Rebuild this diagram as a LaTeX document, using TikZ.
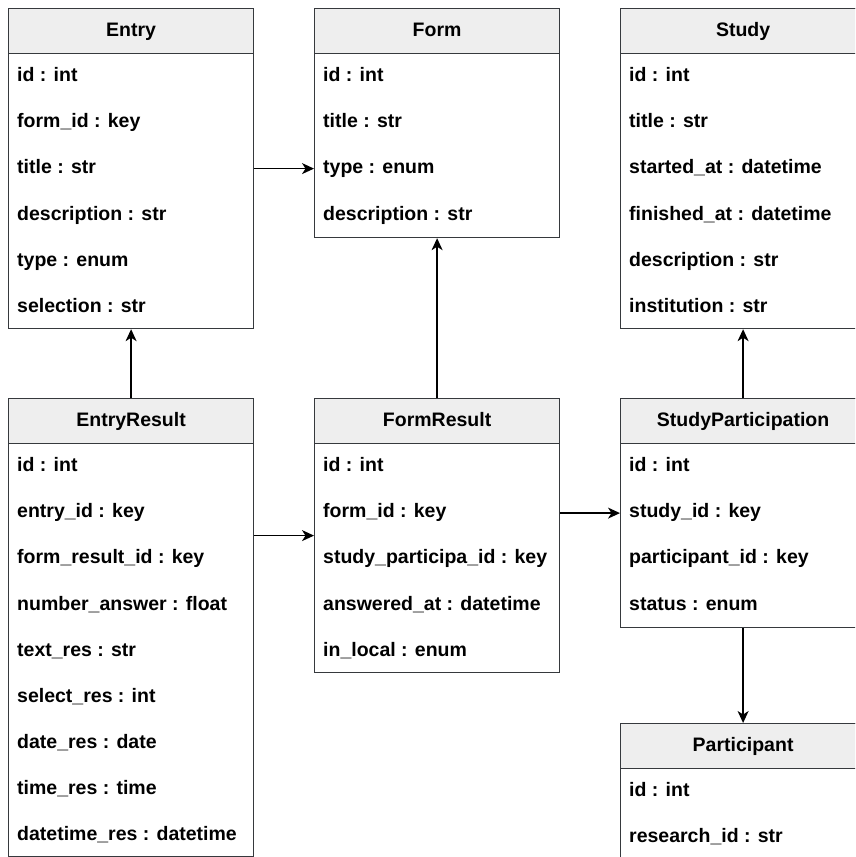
\documentclass[tikz,border=0pt]{standalone}
\usepackage{fontspec}
\setmainfont{Liberation Sans}
\usetikzlibrary{arrows.meta}

\definecolor{boxline}{HTML}{36393D}
\definecolor{headfill}{HTML}{EEEEEE}

\begin{document}
\begin{tikzpicture}
        [x=1pt, y=-1pt, font=\fontsize{19.5}{23}\selectfont\bfseries,
        table/.style={draw=boxline, line width=1.2pt, fill=white, minimum width=245pt, anchor=north west, inner sep=0pt},
        head/.style={draw=boxline, line width=1.2pt, fill=headfill, minimum width=245pt, minimum height=45pt, anchor=north west, inner sep=0pt, text height=14pt, text depth=3pt},
        field/.style={anchor=west, inner sep=0pt, text height=14pt, text depth=4pt},
        link/.style={black, line width=1.3pt, -{Stealth[length=12pt, width=11pt, inset=3.5pt]}}]

        \useasboundingbox (0,0) rectangle (855,857);
        \clip (0,0) rectangle (855,857);

        % tables, top row
        \node[table, minimum height=320pt] (entry) at (8,8) {};
        \node[head] (entryhead) at (entry.north west) {Entry};
        \node[field] (entry1) at (17,76) {id : int};
        \node[field] (entry2) at (17,122) {form\_id : key};
        \node[field] (entry3) at (17,168) {title : str};
        \node[field] (entry4) at (17,215) {description : str};
        \node[field] (entry5) at (17,261) {type : enum};
        \node[field] (entry6) at (17,307) {selection : str};

        \node[table, minimum height=229pt] (form) at (314,8) {};
        \node[head] (formhead) at (form.north west) {Form};
        \node[field] (form1) at (323,76) {id : int};
        \node[field] (form2) at (323,122) {title : str};
        \node[field] (form3) at (323,168) {type : enum};
        \node[field] (form4) at (323,215) {description : str};

        \node[table, minimum height=320pt] (study) at (620,8) {};
        \node[head] (studyhead) at (study.north west) {Study};
        \node[field] (study1) at (629,76) {id : int};
        \node[field] (study2) at (629,122) {title : str};
        \node[field] (study3) at (629,168) {started\_at : datetime};
        \node[field] (study4) at (629,215) {finished\_at : datetime};
        \node[field] (study5) at (629,261) {description : str};
        \node[field] (study6) at (629,307) {institution : str};

        % tables, bottom row
        \node[table, minimum height=458pt] (entryres) at (8,398) {};
        \node[head] (entryreshead) at (entryres.north west) {EntryResult};
        \node[field] (entryres1) at (17,466) {id : int};
        \node[field] (entryres2) at (17,512) {entry\_id : key};
        \node[field] (entryres3) at (17,558) {form\_result\_id : key};
        \node[field] (entryres4) at (17,605) {number\_answer : float};
        \node[field] (entryres5) at (17,651) {text\_res : str};
        \node[field] (entryres6) at (17,697) {select\_res : int};
        \node[field] (entryres7) at (17,743) {date\_res : date};
        \node[field] (entryres8) at (17,789) {time\_res : time};
        \node[field] (entryres9) at (17,835) {datetime\_res : datetime};

        \node[table, minimum height=274pt] (formres) at (314,398) {};
        \node[head] (formreshead) at (formres.north west) {FormResult};
        \node[field] (formres1) at (323,466) {id : int};
        \node[field] (formres2) at (323,512) {form\_id : key};
        \node[field] (formres3) at (323,558) {study\_participa\_id : key};
        \node[field] (formres4) at (323,605) {answered\_at : datetime};
        \node[field] (formres5) at (323,651) {in\_local : enum};

        \node[table, minimum height=229pt] (studypart) at (620,398) {};
        \node[head] (studyparthead) at (studypart.north west) {StudyParticipation};
        \node[field] (studypart1) at (629,466) {id : int};
        \node[field] (studypart2) at (629,512) {study\_id : key};
        \node[field] (studypart3) at (629,558) {participant\_id : key};
        \node[field] (studypart4) at (629,605) {status : enum};

        \node[table, minimum height=190pt] (participant) at (620,723) {};
        \node[head] (participanthead) at (participant.north west) {Participant};
        \node[field] (participant1) at (629,791) {id : int};
        \node[field] (participant2) at (629,837) {research\_id : str};

        % references
        \draw[link] (entry.east) -- (entry.east -| form.west);
        \draw[link] (entryres.north) -- (entry.south);
        \draw[link] (formres.north) -- (form.south);
        \draw[link] (entryres.east |- formres.west) -- (formres.west);
        \draw[link] (formres.east |- studypart.west) -- (studypart.west);
        \draw[link] (studypart.north) -- (study.south);
        \draw[link] (studypart.south) -- (participant.north);

    \end{tikzpicture}
\end{document}
